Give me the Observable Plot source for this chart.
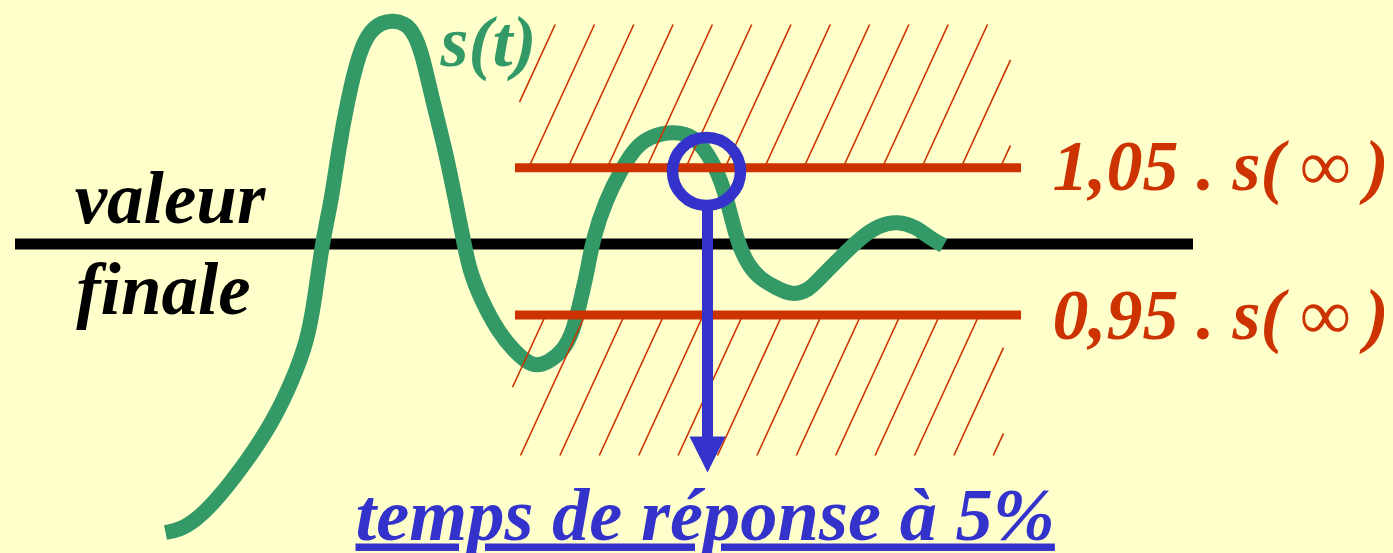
<!DOCTYPE html>
<html><head><meta charset="utf-8">
<script src="https://cdn.jsdelivr.net/npm/d3@7"></script>
<script src="https://cdn.jsdelivr.net/npm/@observablehq/plot@0.6"></script>
<style>html,body{margin:0;padding:0;background:#FFFFCC;overflow:hidden}</style>
</head><body><div id="chart"></div>
<script>
// Step response s(t) (schematic units: t along time, s up the value axis)
const curveT = [0,15,30,51,82,108,127,142,149,157,166,173,182,194,205,216,228,239,247,256,267,280,290,298,304,316,332,348,367,383,398,408,415,422,427,440,457,468,480,503,520,533,551,562,572,584,596,610,627,643,655,675,695,715,732,750,765,778];
const curveS = [-1,2,11,31,71,111,151,191,231,291,331,381,431,481,501,509,511,508,501,481,431,381,331,291,261,231,201,181,164,169,181,201,231,261,291,331,364,381,393,400,398,391,364,331,288,264,252,244,236,241,254,274,294,307,310,305,293,286];

const finalValue = 287.5;          // "valeur finale"
const bandValues = [363.7, 216.5]; // 1,05.s(inf) and 0,95.s(inf)
const bandT = [350, 856];
const finalT = [-150, 1028];
const responseTime = 542;          // temps de réponse à 5%
const circleValue = 360;
const arrowFrom = 326, arrowTo = 59;

const labelValeur = ["valeur", "finale"];
const labelBands = ["1,05 . s(\u2009\u221E\u2009)", "0,95 . s(\u2009\u221E\u2009)"];
const labelCurve = "s(t)";
const labelResponse = "temps de réponse à 5%";

const GREEN = "#339966", RED = "#CC3300", BLUE = "#3333CC";
const FONT = "'Liberation Serif','Times New Roman',serif";

// hatching pattern for the zones outside the ±5% band
function hatch(tb0, spacing, slope, sLo, sHi, tLo, tHi) {
  const out = [];
  for (let k = -4; k <= 16; k++) {
    const tb = tb0 + k * spacing;
    const sA = Math.max(sLo, sLo + (tLo - tb) / slope);
    const sB = Math.min(sHi, sLo + (tHi - tb) / slope);
    if (sB > sA) out.push({x1: tb + slope * (sA - sLo), y1: sA, x2: tb + slope * (sB - sLo), y2: sB});
  }
  return out;
}
const hatchUpper = hatch(363.2, 39.3, 0.46, 364, 507, 354, 845);
const hatchLower = hatch(355, 39.4, 0.46, 76, 216.5, 347, 838);

const curve = curveT.map((t, i) => ({t, s: curveS[i]}));
const head = [
  {t: responseTime - 18, s: arrowTo + 36},
  {t: responseTime + 18, s: arrowTo + 36},
  {t: responseTime, s: arrowTo}
];

const chart = Plot.plot({
  width: 1393, height: 553,
  marginTop: 0, marginRight: 0, marginBottom: 0, marginLeft: 0,
  x: {domain: [-165, 1228], axis: null},
  y: {domain: [-22, 531], axis: null},
  style: {background: "#FFFFCC", overflow: "visible"},
  marks: [
    Plot.ruleY([finalValue], {x1: finalT[0], x2: finalT[1], stroke: "black", strokeWidth: 11}),
    Plot.line(curve, {x: "t", y: "s", stroke: GREEN, strokeWidth: 15, curve: "basis", strokeLinecap: "butt", strokeLinejoin: "round"}),
    Plot.link(hatchUpper.concat(hatchLower), {x1: "x1", y1: "y1", x2: "x2", y2: "y2", stroke: RED, strokeWidth: 1.6}),
    Plot.ruleY(bandValues, {x1: bandT[0], x2: bandT[1], stroke: RED, strokeWidth: 9}),
    Plot.ruleX([responseTime], {y1: arrowFrom, y2: arrowTo + 30, stroke: BLUE, strokeWidth: 11}),
    Plot.line(head, {x: "t", y: "s", fill: BLUE, stroke: "none"}),
    Plot.dot([{t: responseTime - 1, s: circleValue}], {x: "t", y: "s", r: 34, stroke: BLUE, strokeWidth: 11.5, fill: "none"}),
    Plot.text([labelCurve], {x: 275, y: 466, text: d => d, fill: GREEN, fontSize: 72, fontWeight: "bold", fontStyle: "italic", fontFamily: FONT, textAnchor: "start", lineAnchor: "bottom"}),
    Plot.text(labelValeur, {x: [4.5, -2], y: [309, 218], text: d => d, fill: "black", fontSize: 73, fontWeight: "bold", fontStyle: "italic", fontFamily: FONT, textAnchor: "middle", lineAnchor: "bottom"}),
    Plot.text(labelBands, {x: [887, 887], y: [342, 193], text: d => d, fill: RED, fontSize: 72, fontWeight: "bold", fontStyle: "italic", fontFamily: FONT, textAnchor: "start", lineAnchor: "bottom"}),
    Plot.text([labelResponse], {x: 190, y: -8, text: d => d, fill: BLUE, fontSize: 74.5, fontWeight: "bold", fontStyle: "italic", fontFamily: FONT, textAnchor: "start", lineAnchor: "bottom"})
  ]
});
d3.select(chart).selectAll("text").filter(function() { return this.textContent.startsWith("temps"); })
  .style("text-decoration", "underline");
document.getElementById("chart").appendChild(chart);
</script>
</body></html>
